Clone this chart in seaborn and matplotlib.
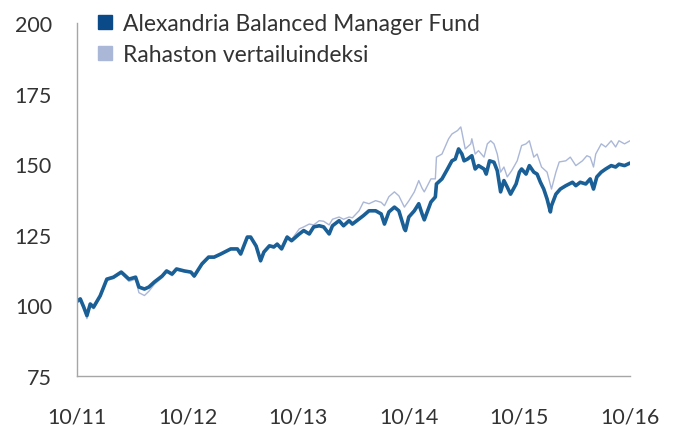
import pandas as pd
import seaborn as sns
import matplotlib.pyplot as plt
from matplotlib.lines import Line2D

# years since 10/11
fund_t = [0.00, 0.03, 0.06, 0.09, 0.12, 0.15, 0.21, 0.27, 0.33, 0.40, 0.42, 0.47,
          0.53, 0.56, 0.61, 0.65, 0.70, 0.77, 0.81, 0.86, 0.90, 0.97, 1.03, 1.06,
          1.13, 1.19, 1.24, 1.30, 1.39, 1.45, 1.48, 1.54, 1.57, 1.62, 1.66, 1.69,
          1.74, 1.78, 1.81, 1.85, 1.90, 1.94, 2.01, 2.05, 2.10, 2.14, 2.19, 2.23,
          2.28, 2.31, 2.37, 2.41, 2.46, 2.49, 2.55, 2.59, 2.64, 2.70, 2.75, 2.78,
          2.82, 2.87, 2.91, 2.96, 2.97, 3.00, 3.05, 3.09, 3.12, 3.14, 3.20, 3.24,
          3.25, 3.30, 3.35, 3.39, 3.42, 3.45, 3.48, 3.50, 3.53, 3.57, 3.60, 3.63,
          3.68, 3.70, 3.73, 3.77, 3.80, 3.83, 3.86, 3.89, 3.92, 3.97, 4.00, 4.02,
          4.06, 4.09, 4.13, 4.16, 4.19, 4.22, 4.25, 4.28, 4.29, 4.33, 4.37, 4.42,
          4.48, 4.51, 4.55, 4.60, 4.64, 4.67, 4.70, 4.74, 4.78, 4.83, 4.87, 4.90,
          4.95, 5.00]
fund_val = [101.5, 102.3, 99.5, 96.4, 100.5, 99.4, 103.4, 109.3, 110.0, 111.8, 111.1, 109.3,
            110.0, 106.5, 105.8, 106.5, 108.3, 110.4, 112.2, 111.1, 112.9, 112.2, 111.8, 110.4,
            114.7, 117.1, 117.1, 118.2, 120.0, 120.0, 118.2, 124.2, 124.2, 121.0, 115.8, 118.9,
            121.1, 120.7, 121.7, 120.0, 124.2, 122.9, 125.3, 126.5, 125.3, 127.8, 128.2, 127.8,
            125.3, 128.2, 130.0, 128.2, 130.0, 128.8, 130.6, 131.8, 133.5, 133.5, 132.4, 128.8,
            133.1, 134.8, 133.5, 127.1, 126.5, 131.3, 133.5, 136.0, 132.4, 130.3, 136.6, 138.4,
            143.0, 144.8, 148.3, 151.2, 151.8, 155.4, 153.6, 151.2, 151.8, 153.0, 148.3, 149.5,
            148.3, 146.5, 151.2, 150.7, 147.7, 140.2, 144.2, 141.9, 139.4, 143.0, 147.2, 148.3,
            146.5, 149.5, 147.2, 146.5, 143.6, 141.2, 137.7, 133.1, 135.3, 139.4, 141.2, 142.4,
            143.6, 142.4, 143.6, 143.0, 144.8, 141.2, 145.5, 147.2, 148.3, 149.5, 149.0, 150.0,
            149.5, 150.4]

bench_t = [0.00, 0.03, 0.06, 0.09, 0.12, 0.15, 0.21, 0.27, 0.33, 0.40, 0.42, 0.47,
           0.53, 0.56, 0.61, 0.65, 0.70, 0.77, 0.81, 0.86, 0.90, 0.97, 1.03, 1.06,
           1.13, 1.19, 1.24, 1.30, 1.39, 1.45, 1.48, 1.54, 1.57, 1.62, 1.66, 1.69,
           1.74, 1.78, 1.81, 1.85, 1.90, 1.94, 2.01, 2.05, 2.10, 2.14, 2.19, 2.23,
           2.28, 2.31, 2.37, 2.41, 2.46, 2.49, 2.55, 2.59, 2.64, 2.70, 2.75, 2.78,
           2.82, 2.87, 2.91, 2.96, 3.00, 3.05, 3.09, 3.12, 3.14, 3.20, 3.24, 3.25,
           3.30, 3.36, 3.39, 3.44, 3.47, 3.48, 3.51, 3.56, 3.57, 3.60, 3.63, 3.68,
           3.71, 3.74, 3.77, 3.80, 3.83, 3.86, 3.89, 3.93, 3.98, 4.02, 4.06, 4.09,
           4.13, 4.16, 4.20, 4.25, 4.29, 4.33, 4.36, 4.42, 4.46, 4.51, 4.57, 4.61,
           4.64, 4.67, 4.69, 4.74, 4.78, 4.83, 4.87, 4.90, 4.95, 5.00]
bench_val = [101.0, 101.5, 99.0, 95.3, 100.0, 98.8, 103.0, 108.8, 109.5, 111.3, 110.5, 108.5,
             109.3, 104.5, 103.5, 105.0, 107.5, 109.8, 111.8, 110.5, 112.5, 112.0, 111.5, 110.0,
             114.3, 116.7, 116.8, 118.0, 119.8, 119.8, 118.0, 123.8, 124.0, 120.5, 115.5, 118.5,
             120.8, 120.3, 121.5, 119.8, 124.5, 123.3, 127.1, 127.8, 128.8, 128.5, 130.0, 129.8,
             128.5, 130.5, 131.3, 130.5, 131.3, 131.0, 133.5, 136.6, 136.0, 137.1, 136.5, 135.3,
             138.5, 140.2, 138.8, 134.8, 137.0, 140.2, 144.2, 141.5, 140.2, 144.8, 144.8, 152.5,
             153.6, 159.0, 160.7, 161.9, 163.2, 161.4, 155.4, 157.2, 159.0, 153.6, 154.8, 152.5,
             157.2, 158.3, 157.2, 153.6, 147.2, 149.0, 145.5, 147.7, 151.2, 156.6, 157.2, 158.3,
             152.5, 153.6, 149.0, 147.2, 141.2, 147.2, 150.8, 151.2, 152.5, 149.5, 151.2, 153.0,
             152.5, 149.0, 153.6, 157.2, 156.1, 158.3, 156.1, 158.3, 157.2, 158.3]

fund_name = "Alexandria Balanced Manager Fund"
bench_name = "Rahaston vertailuindeksi"
x_labels = ["10/11", "10/12", "10/13", "10/14", "10/15", "10/16"]
y_ticks = [75, 100, 125, 150, 175, 200]

fund_color = "#1a5f96"
fund_legend_color = "#0b4a88"
bench_color = "#aab7d7"

df = pd.concat([
    pd.DataFrame({"t": bench_t, "value": bench_val, "series": bench_name}),
    pd.DataFrame({"t": fund_t, "value": fund_val, "series": fund_name}),
])

sns.set_style("white")
plt.rcParams['font.family'] = ['Lato', 'DejaVu Sans']

fig = plt.figure(figsize=(6.77, 4.27), dpi=100)
ax = fig.add_axes([0.1137, 0.1171, 0.8169, 0.8267])

sns.lineplot(data=df, x="t", y="value", hue="series", estimator=None, sort=True,
             palette={bench_name: bench_color, fund_name: fund_color},
             size="series", sizes={bench_name: 1.0, fund_name: 2.6},
             legend=False, ax=ax)

ax.set_xlim(0, 5)
ax.set_ylim(75, 200)
ax.set_xticks(range(len(x_labels)))
ax.set_xticklabels(x_labels)
ax.set_yticks(y_ticks)
ax.set_xlabel("")
ax.set_ylabel("")
ax.tick_params(axis="both", length=0, labelsize=15.5, colors="#333333")
ax.tick_params(axis="y", pad=18)
ax.tick_params(axis="x", pad=22)

for side in ["top", "right"]:
    ax.spines[side].set_visible(False)
for side in ["left", "bottom"]:
    ax.spines[side].set_color("#a6a6a6")
    ax.spines[side].set_linewidth(1.0)

handles = [
    Line2D([], [], linestyle="none", marker="s", markersize=9.5,
           markerfacecolor=fund_legend_color, markeredgecolor=fund_legend_color),
    Line2D([], [], linestyle="none", marker="s", markersize=9.5,
           markerfacecolor=bench_color, markeredgecolor=bench_color),
]
fig.legend(handles, [fund_name, bench_name], loc="upper left",
           bbox_to_anchor=(0.112, 1.016), frameon=False, fontsize=16.5,
           handlelength=0.75, handletextpad=0.4, labelspacing=0.45,
           labelcolor="#333333")

fig.savefig("out.png", dpi=100)
